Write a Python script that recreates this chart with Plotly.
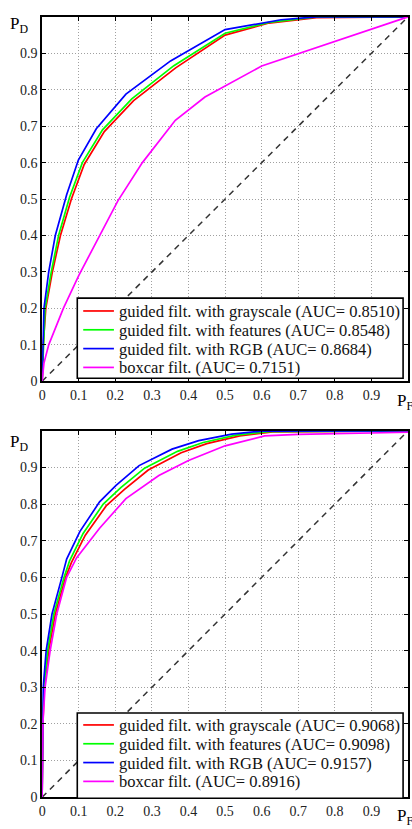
import plotly.graph_objects as go

W, H = 412, 829

names = ["guided filt. with grayscale", "guided filt. with features",
         "guided filt. with RGB", "boxcar filt."]
colors = ["#ff0000", "#00ff00", "#0000ff", "#ff00ff"]
auc_top = ["0.8510", "0.8548", "0.8684", "0.7151"]
auc_bot = ["0.9068", "0.9098", "0.9157", "0.8916"]

# ---- top panel data (PF, PD) ----
top_red_x = [0, 0.003, 0.01, 0.028, 0.05, 0.08, 0.115, 0.17, 0.25, 0.365, 0.5, 0.62, 0.75, 1]
top_red_y = [0, 0.1, 0.2, 0.3, 0.4, 0.5, 0.595, 0.685, 0.77, 0.86, 0.95, 0.983, 0.998, 1]
top_green_x = [0, 0.003, 0.008, 0.025, 0.045, 0.075, 0.11, 0.165, 0.245, 0.36, 0.5, 0.62, 0.75, 1]
top_green_y = [0, 0.1, 0.2, 0.3, 0.4, 0.505, 0.6, 0.69, 0.775, 0.866, 0.955, 0.985, 1, 1]
top_blue_x = [0, 0.002, 0.005, 0.018, 0.036, 0.067, 0.099, 0.148, 0.229, 0.351, 0.5, 0.653, 0.75, 1]
top_blue_y = [0, 0.1, 0.2, 0.3, 0.4, 0.512, 0.607, 0.693, 0.788, 0.879, 0.965, 0.992, 1, 1]
top_mag_x = [0, 0.005, 0.018, 0.058, 0.1, 0.157, 0.207, 0.274, 0.364, 0.445, 0.5, 0.6, 1]
top_mag_y = [0, 0.05, 0.1, 0.2, 0.29, 0.4, 0.495, 0.6, 0.716, 0.78, 0.81, 0.865, 1]

# ---- bottom panel data ----
bot_red_x = [0, 0.002, 0.006, 0.018, 0.036, 0.064, 0.08, 0.118, 0.175, 0.225, 0.29, 0.38, 0.45, 0.54, 0.63, 1]
bot_red_y = [0, 0.2, 0.3, 0.4, 0.5, 0.6, 0.64, 0.715, 0.795, 0.84, 0.893, 0.94, 0.965, 0.986, 0.997, 1]
bot_green_x = [0, 0.001, 0.005, 0.015, 0.032, 0.06, 0.075, 0.112, 0.167, 0.215, 0.28, 0.37, 0.44, 0.53, 0.62, 1]
bot_green_y = [0, 0.2, 0.3, 0.4, 0.5, 0.6, 0.645, 0.72, 0.8, 0.845, 0.898, 0.944, 0.968, 0.988, 0.998, 1]
bot_blue_x = [0, 0.001, 0.003, 0.011, 0.027, 0.054, 0.067, 0.103, 0.157, 0.202, 0.265, 0.355, 0.428, 0.518, 0.6, 1]
bot_blue_y = [0, 0.2, 0.3, 0.4, 0.5, 0.6, 0.65, 0.725, 0.806, 0.851, 0.905, 0.95, 0.973, 0.991, 0.999, 1]
bot_mag_x = [0, 0.002, 0.008, 0.022, 0.04, 0.067, 0.094, 0.157, 0.229, 0.319, 0.4, 0.5, 0.608, 0.7, 1]
bot_mag_y = [0, 0.2, 0.3, 0.4, 0.5, 0.6, 0.653, 0.734, 0.815, 0.878, 0.919, 0.959, 0.986, 0.99, 0.996]

chance = [0, 1]

tick_vals = [0, 0.1, 0.2, 0.3, 0.4, 0.5, 0.6, 0.7, 0.8, 0.9]
tick_text = ["0", "0.1", "0.2", "0.3", "0.4", "0.5", "0.6", "0.7", "0.8", "0.9"]

FONT = "Liberation Serif, Times New Roman, serif"

fig = go.Figure()

top_series = [(top_red_x, top_red_y), (top_green_x, top_green_y),
              (top_blue_x, top_blue_y), (top_mag_x, top_mag_y)]
bot_series = [(bot_red_x, bot_red_y), (bot_green_x, bot_green_y),
              (bot_blue_x, bot_blue_y), (bot_mag_x, bot_mag_y)]

for xa, ya, series, aucs in (("x", "y", top_series, auc_top), ("x2", "y2", bot_series, auc_bot)):
    fig.add_trace(go.Scatter(x=chance, y=chance, mode="lines", showlegend=False,
                             line=dict(color="#333333", width=1.5, dash="6px,5px"),
                             xaxis=xa, yaxis=ya, hoverinfo="skip"))
    for (xs, ys), nm, c, a in zip(series, names, colors, aucs):
        fig.add_trace(go.Scatter(x=xs, y=ys, mode="lines", line=dict(color=c, width=1.7),
                                 name=f"{nm} (AUC= {a})", showlegend=False,
                                 xaxis=xa, yaxis=ya))

def px_x(p):
    return p / W

def px_y(p):
    return 1 - p / H

axis_common = dict(range=[0, 1], tickvals=tick_vals, ticktext=tick_text,
                   showline=True, linecolor="black", linewidth=1.6, mirror="ticks",
                   ticks="inside", ticklen=4, tickcolor="black", tickwidth=1,
                   showgrid=True, gridcolor="#a0a0a0", gridwidth=1, griddash="1px,2px",
                   zeroline=False, fixedrange=True,
                   tickfont=dict(family=FONT, size=14, color="#222222"))

xdom = [px_x(38.5), px_x(408)]
fig.update_layout(
    width=W, height=H,
    margin=dict(l=0, r=0, t=0, b=0),
    paper_bgcolor="white", plot_bgcolor="white",
    font=dict(family=FONT, color="black"),
    xaxis=dict(domain=xdom, anchor="y", **axis_common),
    yaxis=dict(domain=[px_y(385), px_y(17)], anchor="x", **axis_common),
    xaxis2=dict(domain=xdom, anchor="y2", **axis_common),
    yaxis2=dict(domain=[px_y(805), px_y(435)], anchor="x2", **axis_common),
    showlegend=False,
)

shapes = []
annots = []

# legend boxes (pixel geometry): box top, box bottom, row centres
legend_geo = [
    (auc_top, 301, 382, [314, 333, 352, 371]),
    (auc_bot, 720, 806, [732, 751, 770, 789]),
]
for aucs, btop, bbot, rows in legend_geo:
    shapes.append(dict(type="rect", xref="paper", yref="paper",
                       x0=px_x(74), x1=px_x(403), y0=px_y(bbot), y1=px_y(btop),
                       fillcolor="white", line=dict(color="black", width=1.6), layer="above"))
    for nm, c, a, yc in zip(names, colors, aucs, rows):
        shapes.append(dict(type="line", xref="paper", yref="paper",
                           x0=px_x(80), x1=px_x(111), y0=px_y(yc), y1=px_y(yc),
                           line=dict(color=c, width=1.7), layer="above"))
        annots.append(dict(x=px_x(114), y=px_y(yc + 0.5), xref="paper", yref="paper",
                           xanchor="left", yanchor="middle", showarrow=False,
                           text=f"{nm} (AUC= {a})",
                           font=dict(family=FONT, size=16.5, color="#111111")))

for ytop in (15, 437):
    annots.append(dict(x=px_x(4), y=px_y(ytop - 3), xref="paper", yref="paper",
                       xanchor="left", yanchor="top", showarrow=False,
                       text="P<sub>D</sub>", font=dict(family=FONT, size=17, color="black")))
for ytop in (396, 815):
    annots.append(dict(x=px_x(395), y=px_y(ytop - 3), xref="paper", yref="paper",
                       xanchor="left", yanchor="top", showarrow=False,
                       text="P<sub>F</sub>", font=dict(family=FONT, size=17, color="black")))
fig.update_layout(annotations=annots, shapes=shapes)

fig.write_html("out.html")
